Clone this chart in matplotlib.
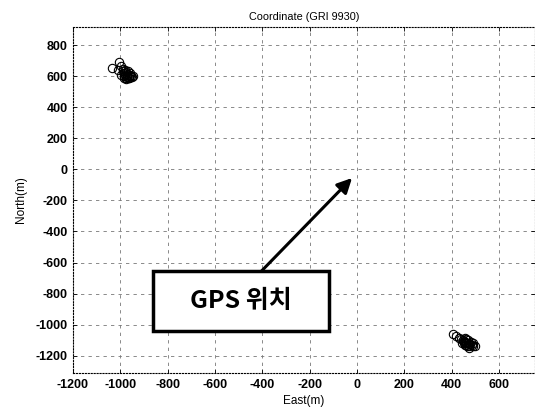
import matplotlib
matplotlib.use("Agg")
import matplotlib.pyplot as plt
from matplotlib.patches import Rectangle

# GPS fixes (East, North) in metres
east_nw = [-1035, -1005, -1010, -995, -990, -985, -980, -975, -970, -965,
           -960, -955, -950, -995, -985, -975, -965, -960, -980, -970,
           -990, -975, -962, -948, -985, -968]
north_nw = [650, 688, 640, 665, 630, 618, 640, 625, 612, 600,
            605, 598, 592, 610, 598, 590, 585, 620, 605, 595,
            645, 582, 590, 600, 585, 630]

east_se = [405, 420, 432, 440, 448, 452, 458, 462, 468, 472,
           478, 485, 490, 445, 455, 465, 475, 498, 470, 460,
           480, 450, 488, 462, 472, 455]
north_se = [-1060, -1075, -1085, -1092, -1100, -1105, -1110, -1115, -1118, -1122,
            -1126, -1130, -1135, -1120, -1128, -1140, -1150, -1140, -1100, -1095,
            -1110, -1115, -1118, -1132, -1138, -1085]

xticks = [-1200, -1000, -800, -600, -400, -200, 0, 200, 400, 600]
yticks = [800, 600, 400, 200, 0, -200, -400, -600, -800, -1000, -1200]

# annotation
label_text = "GPS 위치"
box_xy = (-860, -1039)
box_w, box_h = 741, 386
arrow_tip = (-21, -56)
arrow_tail = (-403, -654)

plt.rcParams['font.family'] = ['Liberation Sans', 'DejaVu Sans']
plt.rcParams['axes.unicode_minus'] = False

fig = plt.figure(figsize=(5.35, 4.19), dpi=100)
ax = fig.add_axes([0.1364, 0.1098, 0.8636, 0.8265])

ax.plot(east_nw, north_nw, 'o', mfc='none', mec='black', ms=6, mew=0.8)
ax.plot(east_se, north_se, 'o', mfc='none', mec='black', ms=6, mew=0.8)

ax.set_xlim(-1200, 752)
ax.set_ylim(-1311, 918)
ax.set_xticks(xticks)
ax.set_yticks(yticks)
ax.tick_params(direction='in', top=True, right=True, length=3, width=0.6,
               labelsize=9, pad=4)
for lab in ax.get_xticklabels() + ax.get_yticklabels():
    lab.set_fontweight('bold')

ax.grid(True, color='#777777', linestyle=(0, (4, 5)), linewidth=0.6)
for s in ax.spines.values():
    s.set_linewidth(0.8)
    s.set_linestyle(':')

ax.set_title("Coordinate (GRI 9930)", fontsize=7.8, pad=5)
ax.set_xlabel("East(m)", fontsize=8.5, labelpad=3)
ax.set_ylabel("North(m)", fontsize=8.5, labelpad=6)

ax.annotate("", xy=arrow_tip, xytext=arrow_tail,
            arrowprops=dict(arrowstyle='-|>', color='black', lw=2.2,
                            mutation_scale=22, shrinkA=0, shrinkB=0),
            zorder=4)
ax.add_patch(Rectangle(box_xy, box_w, box_h, facecolor='white',
                       edgecolor='black', linewidth=2.5, zorder=5))
ax.text(box_xy[0] + box_w / 2, box_xy[1] + box_h / 2, label_text,
        ha='center', va='center', fontsize=18, fontweight='bold',
        family=['Noto Sans CJK KR', 'DejaVu Sans'], zorder=6)

fig.savefig("out.png", dpi=100)
